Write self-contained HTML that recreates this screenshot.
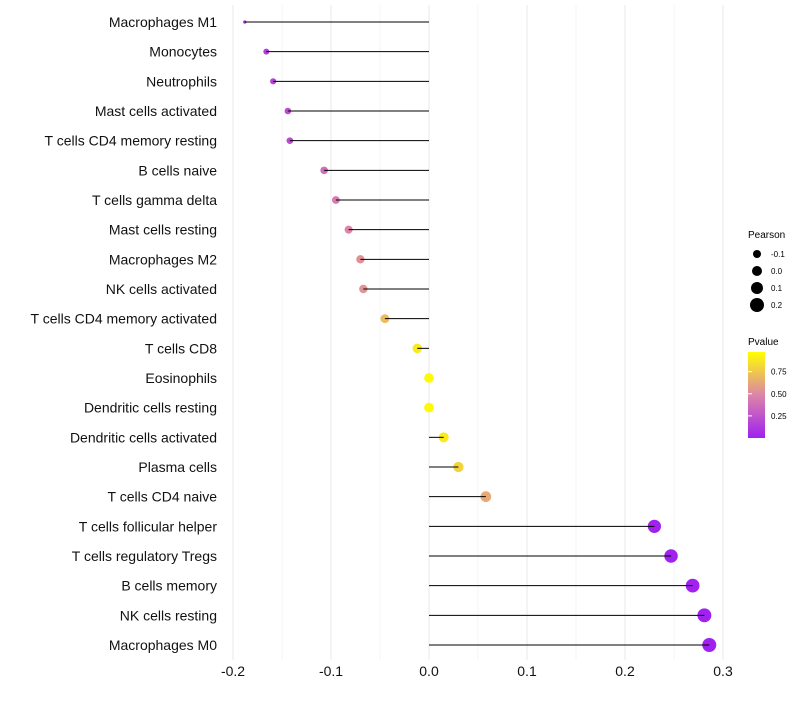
<!DOCTYPE html>
<html><head><meta charset="utf-8"><style>
body{margin:0;background:#fff;font-family:"Liberation Sans",sans-serif}
</style></head><body>
<svg id="chart" width="800" height="700" xmlns="http://www.w3.org/2000/svg" font-family="Liberation Sans, sans-serif">
<g id="grid"></g>
<g id="marks"></g>
<g id="ylabels"></g>
<g id="xlabels"></g>
<g>
<text x="748" y="238" font-size="10">Pearson</text>
<g id="sizeLegend"></g>
</g>
<g>
<defs><linearGradient id="pg" x1="0" y1="1" x2="0" y2="0">
<stop offset="0" stop-color="#A020F0"/><stop offset="0.5" stop-color="#DC85A8"/><stop offset="1" stop-color="#FFFF00"/></linearGradient></defs>
<text x="748" y="345" font-size="10">Pvalue</text>
<rect x="748" y="352" width="17" height="86" fill="url(#pg)"/>
<g id="colorTicks"></g>
</g>
</svg>
<script>
const categories=["Macrophages M1","Monocytes","Neutrophils","Mast cells activated","T cells CD4 memory resting","B cells naive","T cells gamma delta","Mast cells resting","Macrophages M2","NK cells activated","T cells CD4 memory activated","T cells CD8","Eosinophils","Dendritic cells resting","Dendritic cells activated","Plasma cells","T cells CD4 naive","T cells follicular helper","T cells regulatory  Tregs ","B cells memory","NK cells resting","Macrophages M0"];
const pearson=[-0.188,-0.166,-0.159,-0.144,-0.142,-0.107,-0.095,-0.082,-0.070,-0.067,-0.045,-0.012,0.0,0.0,0.015,0.030,0.058,0.230,0.247,0.269,0.281,0.286];
const pvalue=[0.08,0.15,0.17,0.22,0.22,0.38,0.45,0.5,0.55,0.56,0.72,0.92,0.98,0.98,0.92,0.82,0.65,0.01,0.008,0.005,0.003,0.002];
const xTicks=[-0.2,-0.1,0.0,0.1,0.2,0.3];
const sizeLegend=[-0.1,0.0,0.1,0.2];
const colorTicks=[0.25,0.5,0.75];
const NS="http://www.w3.org/2000/svg";
const x=v=>429+v*980;
const y=i=>22+i*(623/21);
function r(v){const d=v+0.19;const a=d<0.024?2.25+280*d:9+88*(d-0.024);return Math.sqrt(Math.max(1,a));}
function lerp(a,b,t){return a.map((c,i)=>Math.round(c+(b[i]-c)*t));}
function col(p){const s=[[160,32,240],[220,133,168],[255,255,0]];let c=p<0.5?lerp(s[0],s[1],p/0.5):lerp(s[1],s[2],(p-0.5)/0.5);return `rgb(${c})`;}
function el(t,a,parent){const e=document.createElementNS(NS,t);for(const k in a)e.setAttribute(k,a[k]);parent.appendChild(e);return e;}
const grid=document.getElementById('grid'),marks=document.getElementById('marks'),yl=document.getElementById('ylabels'),xl=document.getElementById('xlabels');
for(let k=-4;k<=6;k++){const v=k*0.05;const major=k%2===0;const g=el('line',{x1:x(v),x2:x(v),y1:5,y2:660,stroke:major?'#ebebeb':'#f4f4f4','stroke-width':major?1.1:0.8},grid);

}
categories.forEach((c,i)=>{
const cy=y(i),v=pearson[i];
const ci=el('circle',{cx:x(v),cy:cy,r:r(v),fill:col(pvalue[i])},marks);


const ln=el('line',{x1:x(v),x2:x(0),y1:cy,y2:cy,stroke:'#000','stroke-width':1},marks);


const t=el('text',{x:217,y:cy+5,'text-anchor':'end','font-size':14,fill:'#111'},yl);t.textContent=c;


});
xTicks.forEach(v=>{const t=el('text',{x:x(v),y:676,'text-anchor':'middle','font-size':14,fill:'#111'},xl);t.textContent=v.toFixed(1);

});
const sl=document.getElementById('sizeLegend');
sizeLegend.forEach((v,i)=>{const cy=254+i*17;
const c=el('circle',{cx:757,cy:cy,r:4+i,fill:'#000'},sl);


const t=el('text',{x:771,y:cy+3,'font-size':8},sl);t.textContent=v.toFixed(1);

});
const ct=document.getElementById('colorTicks');
colorTicks.forEach(p=>{const cy=438-p*88.5;
const l=el('line',{x1:748,x2:752,y1:cy,y2:cy,stroke:'#fff'},ct);


const t=el('text',{x:771,y:cy+3,'font-size':8},ct);t.textContent=p.toFixed(2);

});
</script>
</body></html>
